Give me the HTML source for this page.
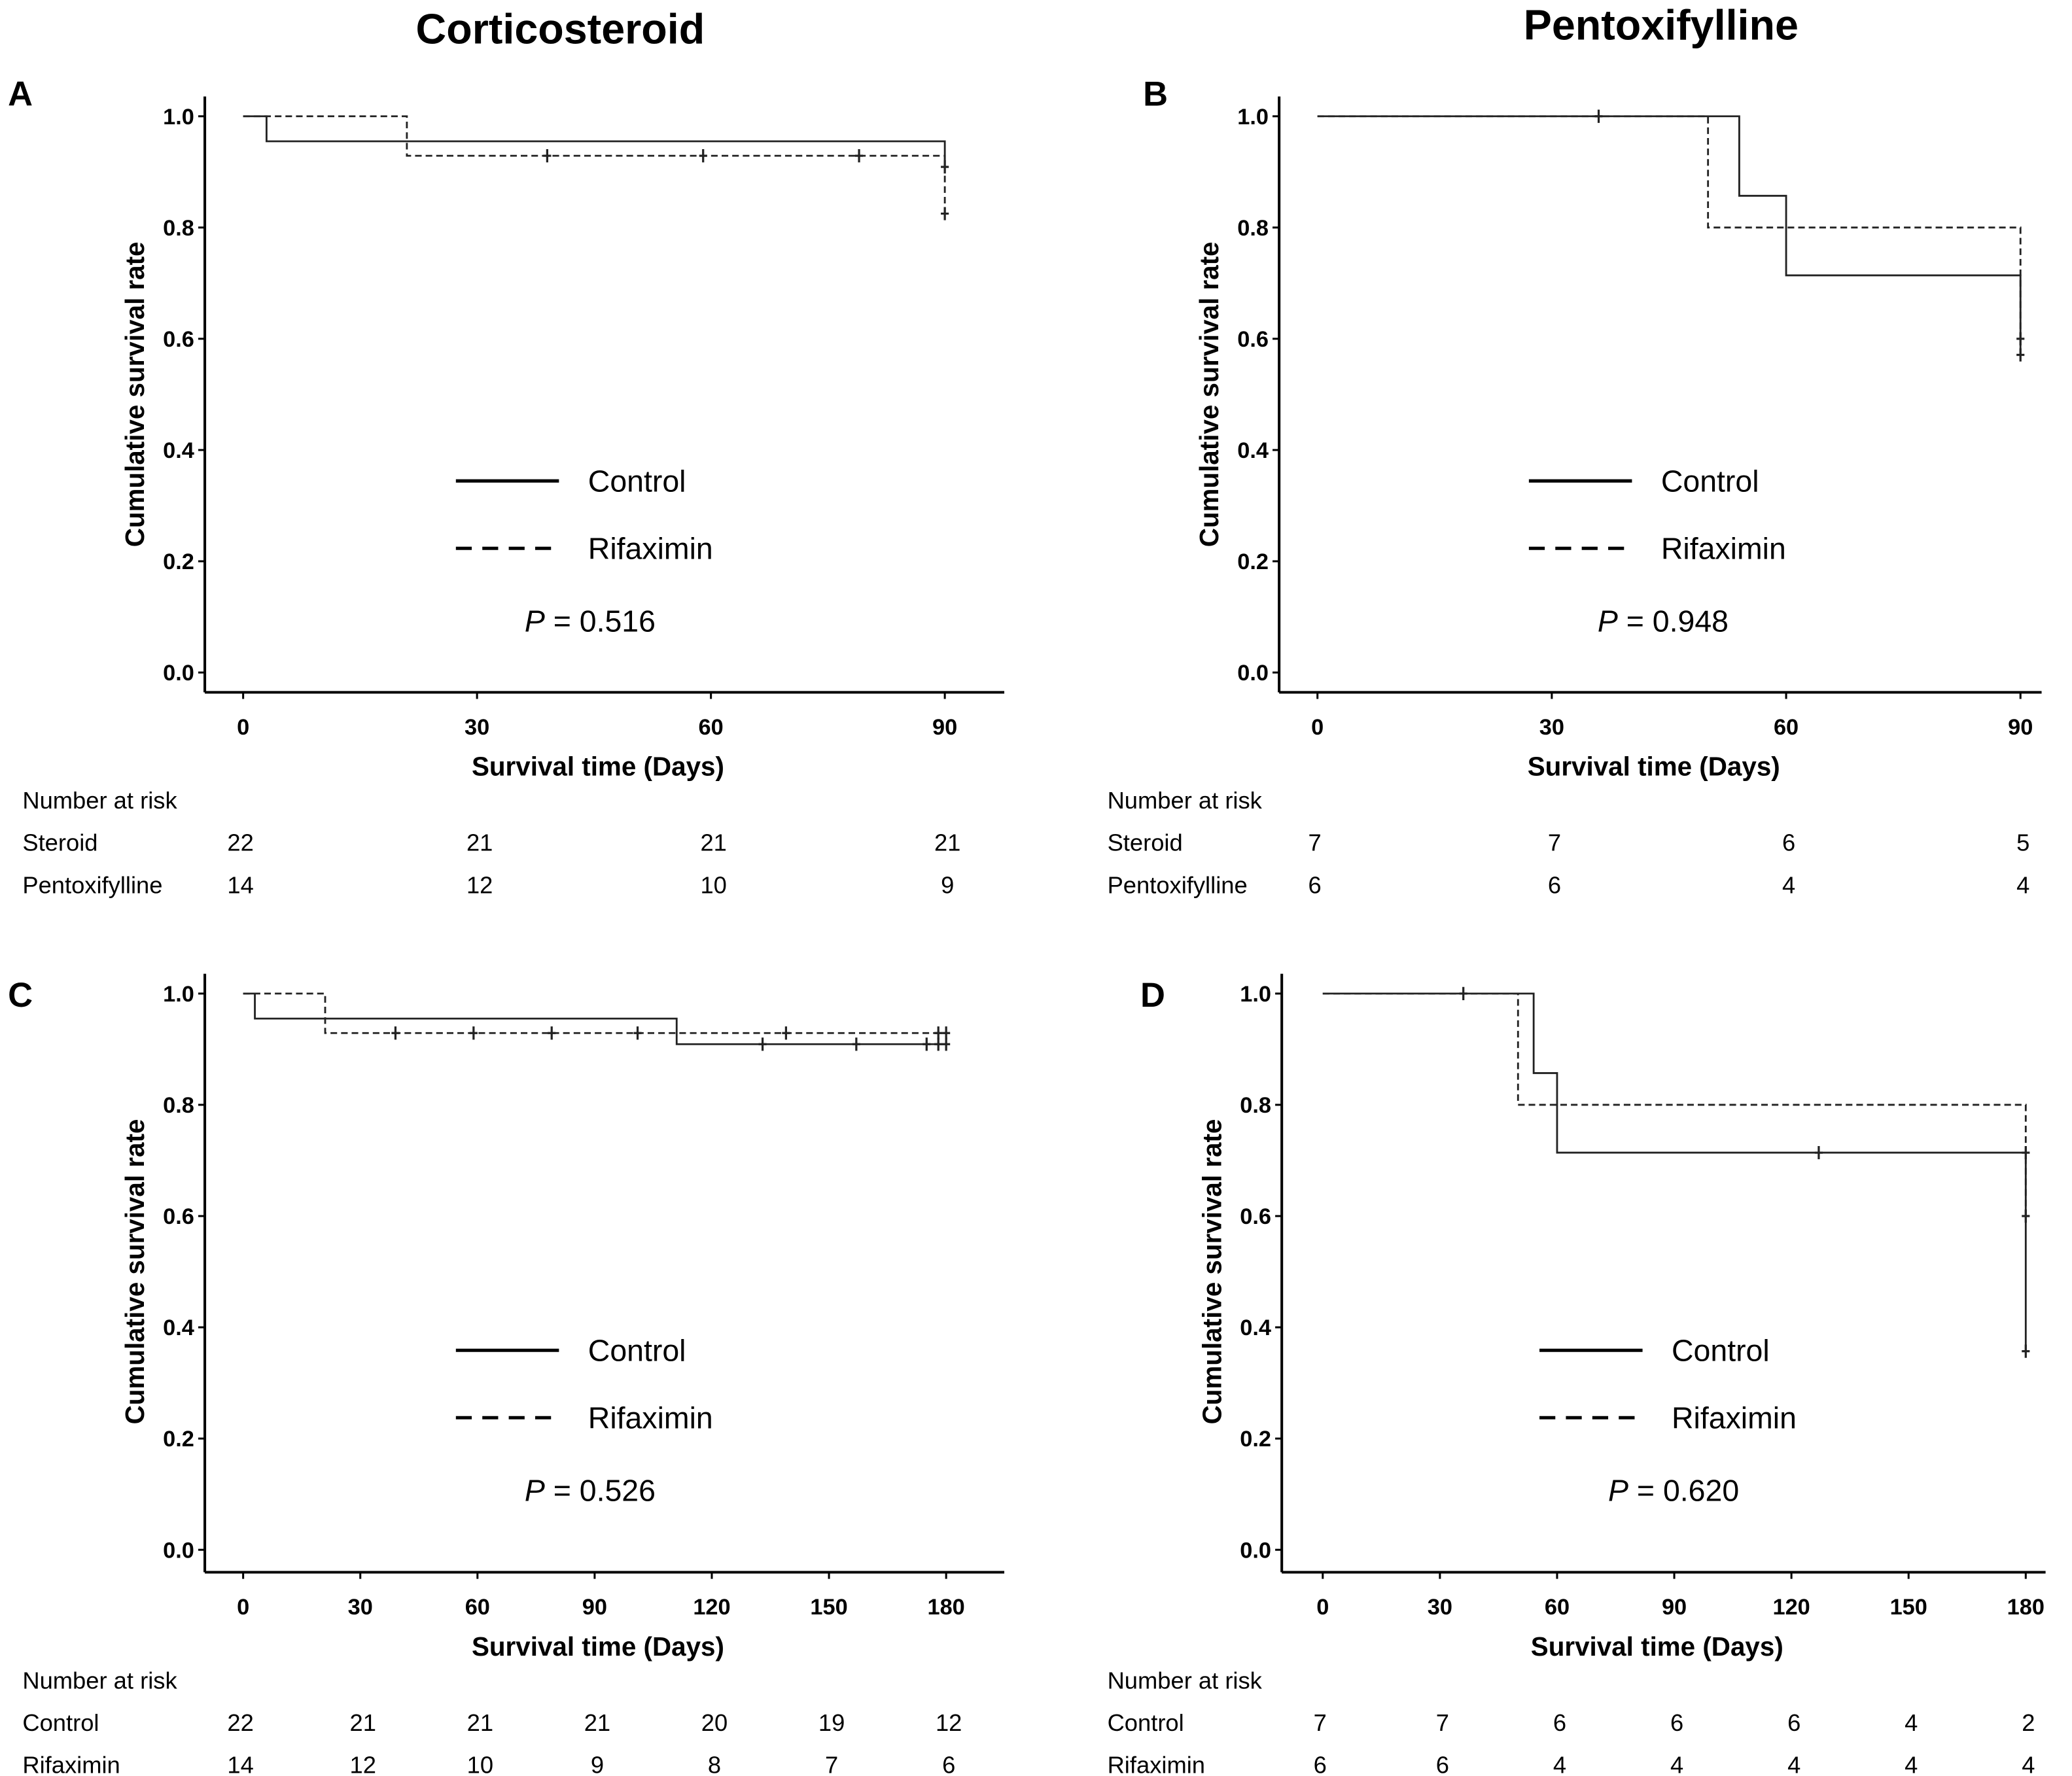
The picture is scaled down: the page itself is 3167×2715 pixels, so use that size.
<!DOCTYPE html>
<html><head><meta charset="utf-8"><style>
html,body{margin:0;padding:0;background:#fff}
svg{display:block}
text{font-family:"Liberation Sans",Arial,sans-serif;fill:#000}
.tick{font-weight:bold;font-size:17px}
.ttl{font-weight:bold;font-size:20px}
.leg{font-size:23px}
.risk{font-size:18px}
</style></head><body>
<svg id="fig" xmlns="http://www.w3.org/2000/svg" width="3167" height="2715" viewBox="0 0 1568 1344.2">
<text x="424" y="33" text-anchor="middle" font-size="32" font-weight="bold">Corticosteroid</text>
<text x="1257" y="30" text-anchor="middle" font-size="32" font-weight="bold">Pentoxifylline</text>
</svg>
<script>
// Panel A data
const aCtrlTimes=[0,3,90,90];const aCtrlSurv=[1,0.955,0.909,0.909];
const aRifTimes=[0,21,90,90];const aRifSurv=[1,0.929,0.825,0.825];
const aCensC=[[90,0.909]];const aCensR=[[39,0.929],[59,0.929],[79,0.929],[90,0.825]];
// Panel B data
const bCtrlTimes=[0,54,60,90];const bCtrlSurv=[1,0.857,0.714,0.571];
const bRifTimes=[0,50,90];const bRifSurv=[1,0.8,0.6];
const bCensC=[[36,1],[90,0.571]];const bCensR=[[90,0.6]];
// Panel C data
const cCtrlTimes=[0,3,111,180];const cCtrlSurv=[1,0.955,0.909,0.909];
const cRifTimes=[0,21,180];const cRifSurv=[1,0.929,0.929];
const cCensC=[[133,0.909],[157,0.909],[175,0.909],[178,0.909],[180,0.909]];
const cCensR=[[39,0.929],[59,0.929],[79,0.929],[101,0.929],[139,0.929],[178,0.929],[180,0.929]];
// Panel D data
const dCtrlTimes=[0,54,60,180];const dCtrlSurv=[1,0.857,0.714,0.357];
const dRifTimes=[0,50,180];const dRifSurv=[1,0.8,0.6];
const dCensC=[[36,1],[127,0.714],[180,0.714],[180,0.357]];const dCensR=[[180,0.6]];
// ticks
const yTicks=[0,0.2,0.4,0.6,0.8,1.0];
const xTicks90=[0,30,60,90];const xTicks180=[0,30,60,90,120,150,180];
// risk tables
const aRisk1=[22,21,21,21],aRisk2=[14,12,10,9];
const bRisk1=[7,7,6,5],bRisk2=[6,6,4,4];
const cRisk1=[22,21,21,21,20,19,12],cRisk2=[14,12,10,9,8,7,6];
const dRisk1=[7,7,6,6,6,4,2],dRisk2=[6,6,4,4,4,4,4];

const NS='http://www.w3.org/2000/svg';
const svg=document.getElementById('fig');
function mk(tag,attrs,parent,txt){const e=document.createElementNS(NS,tag);for(const k in attrs)e.setAttribute(k,attrs[k]);if(txt!==undefined)e.textContent=txt;(parent||svg).appendChild(e);return e;}

function panel(o){
  const g=mk('g',{});
  
  
  const xMax=o.xTicks[o.xTicks.length-1];
  const sx=t=>o.x0+(t/xMax)*(o.x1-o.x0);
  const sy=v=>o.y0-v*(o.y0-o.y1);
  const ya=mk('line',{x1:o.ax,y1:o.top,x2:o.ax,y2:o.axY,stroke:'#000','stroke-width':2},g);
  
  const xa=mk('line',{x1:o.ax,y1:o.axY,x2:o.axR,y2:o.axY,stroke:'#000','stroke-width':2},g);
  
  yTicks.forEach(v=>{
    mk('line',{x1:o.ax-5,x2:o.ax,y1:sy(v),y2:sy(v),stroke:'#000','stroke-width':1.5},g);
    const t=mk('text',{x:o.ax-8,y:sy(v)+6,'text-anchor':'end',class:'tick'},g,v.toFixed(1));
    
  });
  o.xTicks.forEach(v=>{
    mk('line',{x1:sx(v),x2:sx(v),y1:o.axY,y2:o.axY+5,stroke:'#000','stroke-width':1.5},g);
    const t=mk('text',{x:sx(v),y:o.axY+32,'text-anchor':'middle',class:'tick'},g,v);
    
  });
  const yt=mk('text',{x:0,y:0,'text-anchor':'middle',class:'ttl',transform:`translate(${o.ax-46},${(sy(0)+sy(1))/2}) rotate(-90)`},g,'Cumulative survival rate');
  
  const xt=mk('text',{x:(o.ax+o.axR)/2-5,y:o.axY+63,'text-anchor':'middle',class:'ttl'},g,'Survival time (Days)');
  
  const lb=mk('text',{x:o.lx,y:o.ly,'font-size':26,'font-weight':'bold'},g,o.id.toUpperCase());
  
  function curve(ts,ss,dash,name){
    let d=`M${sx(ts[0])},${sy(ss[0])}`;
    for(let i=1;i<ts.length;i++){d+=` H${sx(ts[i])} V${sy(ss[i])}`;}
    const p=mk('path',{d:d,fill:'none',stroke:'#222','stroke-width':1.4,'stroke-dasharray':dash||'none'},g);
    
  }
  curve(o.cT,o.cS,null,'control-curve');
  curve(o.rT,o.rS,'5,3','rifaximin-curve');
  o.cens.forEach(c=>{
    const m=mk('path',{d:`M${sx(c[0])},${sy(c[1])-5}v10M${sx(c[0])-3},${sy(c[1])}h6`,stroke:'#222','stroke-width':1.6},g);
    
  });
  const l1=mk('line',{x1:o.legX,x2:o.legX+78,y1:o.legY,y2:o.legY,stroke:'#000','stroke-width':2.5},g);
  
  const t1=mk('text',{x:o.legX+100,y:o.legY+8,class:'leg'},g,'Control');
  
  const l2=mk('line',{x1:o.legX,x2:o.legX+78,y1:o.legY+51,y2:o.legY+51,stroke:'#000','stroke-width':2.5,'stroke-dasharray':'12,8'},g);
  
  const t2=mk('text',{x:o.legX+100,y:o.legY+59,class:'leg'},g,'Rifaximin');
  
  const pv=mk('text',{x:o.legX+52,y:o.legY+114,class:'leg'},g);
  
  mk('tspan',{'font-style':'italic'},pv,'P');mk('tspan',{},pv,' = '+o.p);
  const rx=o.rx, ry=o.axY+88;
  const rh=mk('text',{x:rx,y:ry,class:'risk'},g,'Number  at risk');
  
  [[o.g1,o.r1],[o.g2,o.r2]].forEach((row,i)=>{
    const y=ry+32*(i+1);
    const n=mk('text',{x:rx,y:y,class:'risk'},g,row[0]);
    
    row[1].forEach((v,j)=>{
      const t=mk('text',{x:sx(o.xTicks[j])+(j===0?-2:2),y:y,'text-anchor':'middle',class:'risk'},g,v);
      
    });
  });
}
panel({id:'a',ax:155,axR:760,top:73,axY:524,x0:184,x1:715,y0:509,y1:88,xTicks:xTicks90,lx:6,ly:80,rx:17,
  cT:aCtrlTimes,cS:aCtrlSurv,rT:aRifTimes,rS:aRifSurv,cens:aCensC.concat(aCensR),legX:345,legY:364,p:'0.516',
  g1:'Steroid',g2:'Pentoxifylline',r1:aRisk1,r2:aRisk2});
panel({id:'b',ax:968,axR:1545,top:73,axY:524,x0:997,x1:1529,y0:509,y1:88,xTicks:xTicks90,lx:865,ly:80,rx:838,
  cT:bCtrlTimes,cS:bCtrlSurv,rT:bRifTimes,rS:bRifSurv,cens:bCensC.concat(bCensR),legX:1157,legY:364,p:'0.948',
  g1:'Steroid',g2:'Pentoxifylline',r1:bRisk1,r2:bRisk2});
panel({id:'c',ax:155,axR:760,top:737,axY:1190,x0:184,x1:716,y0:1173,y1:752,xTicks:xTicks180,lx:6,ly:762,rx:17,
  cT:cCtrlTimes,cS:cCtrlSurv,rT:cRifTimes,rS:cRifSurv,cens:cCensC.concat(cCensR),legX:345,legY:1022,p:'0.526',
  g1:'Control',g2:'Rifaximin',r1:cRisk1,r2:cRisk2});
panel({id:'d',ax:970,axR:1548,top:737,axY:1190,x0:1001,x1:1533,y0:1173,y1:752,xTicks:xTicks180,lx:863,ly:762,rx:838,
  cT:dCtrlTimes,cS:dCtrlSurv,rT:dRifTimes,rS:dRifSurv,cens:dCensC.concat(dCensR),legX:1165,legY:1022,p:'0.620',
  g1:'Control',g2:'Rifaximin',r1:dRisk1,r2:dRisk2});
</script>
</body></html>
